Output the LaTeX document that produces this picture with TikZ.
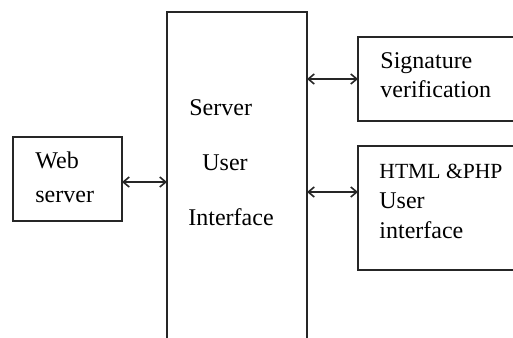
\documentclass[tikz,border=0pt]{standalone}
\usepackage{fontspec}
\setmainfont{Liberation Serif}
\usetikzlibrary{arrows.meta}

\begin{document}
\begin{tikzpicture}[
	x=0.5pt, y=-0.5pt,
	block/.style={rectangle, draw=black!85, line width=0.9pt, inner sep=0pt, outer sep=0pt},
	txt/.style={anchor=base west, inner sep=0pt, font=\fontsize{12}{14}\selectfont},
	link/.style={{Straight Barb[length=3pt,width=5pt]}-{Straight Barb[length=3pt,width=5pt]}, line width=0.8pt, black!85},
	]
	\useasboundingbox (0,0) rectangle (513,337);
	\clip (0,0) rectangle (513,337);
	%Boxes
	\node[block, minimum width=54.5pt, minimum height=42pt] (web) at (67.5,179) {};
	%
	\node[block, minimum width=70pt, minimum height=184pt] (server) at (237,196) {};
	%
	\node[block, minimum width=101pt, minimum height=42pt] (sig) at (459,79) {};
	%
	\node[block, minimum width=101pt, minimum height=62pt] (html) at (459,208) {};
	
	%Texts
	\node[txt] (web1) at (35,168) {Web};
	\node[txt] (web2) at (35,202) {server};
	%
	\node[txt] (srv1) at (189,115) {Server};
	\node[txt] (srv2) at (202,170) {User};
	\node[txt] (srv3) at (188,225) {Interface};
	%
	\node[txt] (sig1) at (380,68) {Signature};
	\node[txt] (sig2) at (380,97) {verification};
	%
	\node[txt, font=\fontsize{10.8}{13}\selectfont] (html1) at (379,178) {HTML \&PHP};
	\node[txt] (html2) at (379,208) {User};
	\node[txt] (html3) at (379,238) {interface};
	
	%Arrows
	\draw[link] ([yshift=-1.5pt]web.east) -- ([yshift=-1.5pt]web.east -| server.west);
	\draw[link] (sig.west -| server.east) -- (sig.west);
	\draw[link] ([yshift=8pt]html.west -| server.east) -- ([yshift=8pt]html.west);
\end{tikzpicture}
\end{document}
